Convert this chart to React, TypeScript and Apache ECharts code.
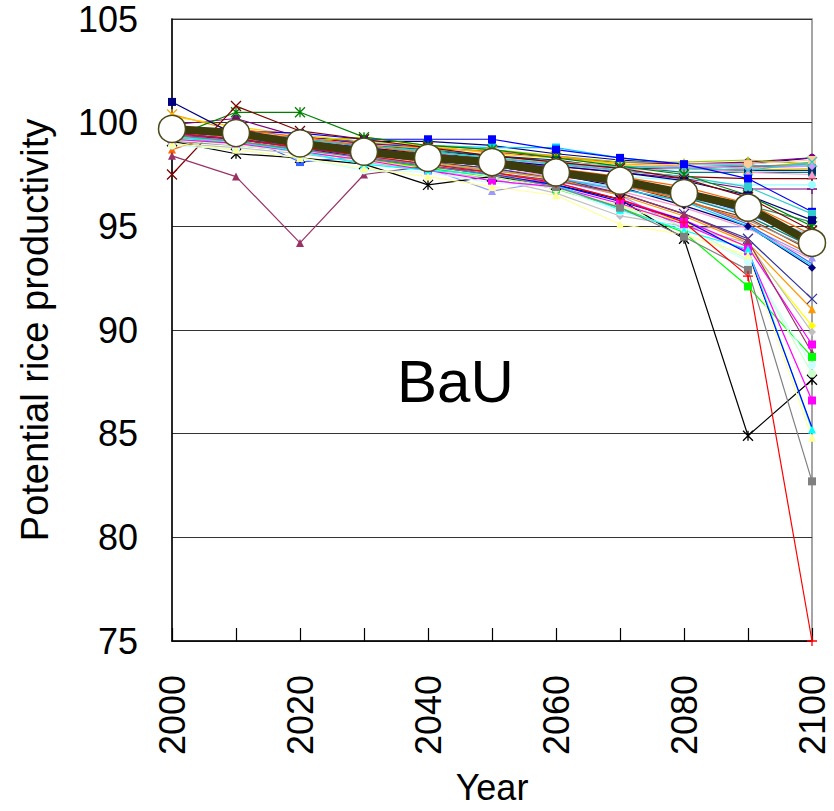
import React, { useEffect, useRef } from "react";
import * as echarts from "echarts";

const YEARS = [2000, 2010, 2020, 2030, 2040, 2050, 2060, 2070, 2080, 2090, 2100];
const X_LABELS = [2000, 2020, 2040, 2060, 2080, 2100];
const Y_TICKS = [75, 80, 85, 90, 95, 100, 105];

// ensemble members (index relative to 2000 = 100)
const U1 = [99.6, 99.5, 99.3, 99.1, 99.1, 98.9, 98.5, 98.2, 98.0, 98.0, 98.3];
const U2 = [99.8, 99.6, 99.3, 99.0, 98.9, 98.8, 98.8, 98.3, 98.0, 97.9, 98.0];
const U3 = [99.9, 100.2, 99.3, 99.0, 98.8, 98.6, 98.3, 98.1, 98.0, 98.1, 98.3];
const U4 = [99.6, 99.3, 99.1, 99.3, 98.9, 98.7, 98.4, 98.1, 98.1, 98.2, 98.0];
const U5 = [100.4, 99.6, 99.2, 98.9, 98.8, 98.6, 98.4, 98.0, 97.9, 97.8, 98.1];
const U6 = [100.3, 99.8, 99.4, 99.1, 98.9, 98.5, 98.3, 98.0, 97.8, 97.7, 97.8];
const U7 = [99.5, 99.3, 99.1, 98.9, 98.6, 98.4, 98.1, 97.9, 97.8, 97.9, 97.9];
const U8 = [99.7, 99.4, 99.2, 98.9, 98.7, 98.4, 98.1, 97.9, 97.6, 97.6, 97.6];
const U9 = [99.8, 99.5, 99.2, 98.9, 98.6, 98.4, 98.2, 97.8, 97.8, 97.7, 97.7];
const U10 = [99.6, 99.4, 99.1, 98.8, 98.5, 98.3, 98.0, 97.7, 97.4, 97.3, 97.3];
const U11 = [99.5, 99.3, 99.0, 98.7, 98.4, 98.1, 97.9, 97.6, 97.3, 96.8, 96.8];
const U12 = [99.4, 99.2, 98.9, 98.6, 98.3, 98.0, 97.7, 97.4, 97.2, 97.0, 97.0];
const U13 = [99.6, 99.4, 99.0, 98.7, 98.5, 98.2, 97.9, 97.7, 97.8, 97.6, 97.5];
const U14 = [99.7, 99.5, 99.2, 98.8, 98.5, 98.2, 98.0, 97.8, 97.9, 97.8, 97.9];
const U15 = [99.9, 99.6, 99.3, 98.9, 98.6, 98.3, 98.1, 97.9, 98.0, 98.0, 98.2];
const U16 = [99.7, 99.5, 99.2, 98.9, 98.6, 98.3, 98.0, 97.9, 97.8, 97.7, 98.1];

const M1 = [99.8, 99.6, 99.5, 99.2, 99.2, 99.2, 98.7, 98.3, 98.0, 97.3, 95.7];
const M2 = [99.4, 99.5, 98.1, 98.4, 98.3, 98.0, 97.6, 97.2, 96.6, 95.6, 94.3];
const M3 = [99.7, 99.5, 99.2, 98.9, 98.6, 98.3, 98.0, 97.7, 97.4, 96.9, 95.6];
const M4 = [99.6, 99.4, 99.1, 98.7, 98.4, 98.1, 97.8, 97.3, 96.7, 96.0, 95.2];
const M5 = [99.3, 100.5, 100.5, 99.3, 98.9, 98.7, 98.3, 97.9, 97.5, 96.5, 95.0];
const M6 = [101.0, 99.4, 99.1, 98.8, 98.5, 98.2, 97.9, 97.6, 97.2, 96.5, 95.3];
const M7 = [97.5, 100.8, 99.6, 99.2, 98.8, 98.4, 98.1, 97.8, 97.3, 96.4, 94.8];
const M8 = [98.7, 99.7, 99.3, 98.9, 98.5, 98.1, 97.8, 97.4, 96.9, 96.1, 94.6];
const M9 = [99.3, 99.0, 98.8, 98.4, 97.8, 96.7, 97.2, 96.5, 94.9, 95.0, 93.5];
const M10 = [99.5, 99.3, 99.0, 98.6, 98.2, 97.9, 97.5, 96.9, 96.0, 95.0, 93.0];

const B1 = [99.8, 99.5, 99.1, 98.7, 98.3, 98.0, 97.6, 97.1, 96.3, 95.1, 93.2];
const B2 = [99.7, 99.4, 99.0, 98.6, 98.2, 97.9, 97.5, 97.0, 96.2, 95.4, 93.8];
const B3 = [99.6, 99.3, 98.9, 98.5, 98.2, 97.9, 97.5, 97.1, 96.5, 95.7, 94.4];
const B4 = [99.7, 99.4, 99.0, 98.7, 98.3, 98.0, 97.6, 97.2, 96.6, 95.8, 94.2];
const B5 = [99.4, 99.2, 98.8, 98.4, 98.0, 97.7, 97.3, 96.9, 96.4, 95.6, 94.6];
const B6 = [99.1, 98.9, 98.6, 98.2, 97.9, 97.5, 97.2, 96.8, 96.2, 95.3, 93.9];
const B7 = [99.5, 99.3, 98.9, 98.5, 98.1, 97.8, 97.4, 96.7, 95.9, 94.9, 93.4];
const B8 = [99.6, 99.3, 98.9, 98.6, 98.2, 97.9, 97.5, 97.0, 96.4, 95.5, 94.0];
const B9 = [99.8, 99.5, 99.1, 98.6, 98.3, 98.0, 97.5, 97.0, 96.3, 95.2, 93.6];
const B10 = [99.2, 99.0, 98.7, 98.3, 98.0, 97.7, 97.3, 96.8, 96.2, 95.0, 93.1];

const L1 = [99.4, 99.2, 98.9, 98.5, 98.1, 97.8, 97.3, 96.6, 95.6, 94.4, 91.5];
const L2 = [99.6, 99.3, 98.9, 98.5, 98.1, 97.7, 97.3, 96.5, 95.5, 94.2, 91.0];
const L3 = [99.2, 99.0, 98.6, 98.2, 97.8, 97.4, 96.8, 96.0, 95.2, 94.0, 90.2];
const L4 = [99.0, 98.8, 98.5, 98.1, 97.7, 97.3, 96.6, 95.5, 95.0, 94.2, 89.9];
const L5 = [99.4, 99.1, 98.7, 98.3, 97.9, 97.4, 97.1, 96.3, 95.3, 94.0, 89.3];
const L6 = [98.4, 97.4, 94.2, 97.5, 97.9, 97.6, 97.2, 96.6, 95.6, 94.3, 88.9];
const L7 = [99.3, 99.1, 98.7, 98.3, 97.8, 97.4, 96.8, 95.9, 94.7, 92.1, 88.7];
const L8 = [99.1, 98.5, 98.3, 98.0, 97.0, 97.4, 97.0, 96.3, 94.4, 84.9, 87.6];
const L9 = [99.2, 98.9, 98.6, 98.3, 97.9, 97.4, 96.8, 96.0, 95.0, 93.4, 87.9];
const L10 = [98.9, 98.7, 98.3, 97.7, 97.6, 97.1, 96.9, 95.7, 94.9, 93.3, 88.3];
const L11 = [99.2, 99.0, 98.6, 98.2, 97.7, 97.2, 96.9, 96.1, 95.1, 93.8, 86.6];
const L12 = [99.3, 99.1, 98.6, 98.0, 97.7, 97.5, 97.0, 95.8, 94.8, 93.9, 85.2];
const L13 = [99.5, 99.2, 98.8, 98.3, 97.9, 97.5, 97.0, 96.2, 95.3, 93.7, 85.3];
const L14 = [99.0, 98.7, 98.3, 97.8, 97.4, 96.9, 96.5, 95.1, 94.6, 93.6, 84.8];
const L15 = [99.4, 99.1, 98.7, 98.3, 97.9, 97.5, 96.9, 95.9, 94.5, 92.9, 82.7];
const L16 = [99.5, 99.2, 98.8, 98.4, 98.0, 97.6, 97.1, 96.3, 95.2, 92.6, 75.0];

const MEAN = [99.7, 99.5, 99.0, 98.6, 98.3, 98.1, 97.6, 97.2, 96.6, 95.9, 94.2];

const X_SYM = "path://M0,0L10,10M10,0L0,10";
const AST_SYM = "path://M0,0L10,10M10,0L0,10M5,0L5,10";
const PLUS_SYM = "path://M5,0L5,10M0,5L10,5";

type Member = { name: string; data: number[]; color: string; symbol: string };

const MEMBERS: Member[] = [
  { name: "U1", data: U1, color: "#000080", symbol: "circle" },
  { name: "U2", data: U2, color: "#00CCFF", symbol: "rect" },
  { name: "U3", data: U3, color: "#800080", symbol: "circle" },
  { name: "U4", data: U4, color: "#99CC00", symbol: "triangle" },
  { name: "U5", data: U5, color: "#FF9900", symbol: AST_SYM },
  { name: "U6", data: U6, color: "#FFCC00", symbol: "diamond" },
  { name: "U7", data: U7, color: "#666699", symbol: "circle" },
  { name: "U8", data: U8, color: "#008080", symbol: "rect" },
  { name: "U9", data: U9, color: "#003366", symbol: "rect" },
  { name: "U10", data: U10, color: "#800000", symbol: PLUS_SYM },
  { name: "U11", data: U11, color: "#800080", symbol: PLUS_SYM },
  { name: "U12", data: U12, color: "#99FFFF", symbol: "circle" },
  { name: "U13", data: U13, color: "#FF99CC", symbol: "triangle" },
  { name: "U14", data: U14, color: "#CC99FF", symbol: "diamond" },
  { name: "U15", data: U15, color: "#FFCC99", symbol: "rect" },
  { name: "U16", data: U16, color: "#33CCCC", symbol: X_SYM },
  { name: "M1", data: M1, color: "#0000FF", symbol: "rect" },
  { name: "M2", data: M2, color: "#3366FF", symbol: "rect" },
  { name: "M3", data: M3, color: "#33CCCC", symbol: "rect" },
  { name: "M4", data: M4, color: "#339966", symbol: X_SYM },
  { name: "M5", data: M5, color: "#008000", symbol: AST_SYM },
  { name: "M6", data: M6, color: "#000080", symbol: "rect" },
  { name: "M7", data: M7, color: "#800000", symbol: X_SYM },
  { name: "M8", data: M8, color: "#FF6600", symbol: "triangle" },
  { name: "M9", data: M9, color: "#9999FF", symbol: "triangle" },
  { name: "M10", data: M10, color: "#000080", symbol: "diamond" },
  { name: "B1", data: B1, color: "#3366FF", symbol: "none" },
  { name: "B2", data: B2, color: "#993300", symbol: "none" },
  { name: "B3", data: B3, color: "#003300", symbol: "none" },
  { name: "B4", data: B4, color: "#333300", symbol: "none" },
  { name: "B5", data: B5, color: "#99CCFF", symbol: "none" },
  { name: "B6", data: B6, color: "#969696", symbol: "none" },
  { name: "B7", data: B7, color: "#FF99CC", symbol: "none" },
  { name: "B8", data: B8, color: "#008080", symbol: "none" },
  { name: "B9", data: B9, color: "#FF6600", symbol: "none" },
  { name: "B10", data: B10, color: "#00CCFF", symbol: "none" },
  { name: "L1", data: L1, color: "#333399", symbol: X_SYM },
  { name: "L2", data: L2, color: "#FF9900", symbol: "triangle" },
  { name: "L3", data: L3, color: "#FFFF00", symbol: "diamond" },
  { name: "L4", data: L4, color: "#C0C0C0", symbol: "diamond" },
  { name: "L5", data: L5, color: "#FF00FF", symbol: "rect" },
  { name: "L6", data: L6, color: "#993366", symbol: "triangle" },
  { name: "L7", data: L7, color: "#00FF00", symbol: "rect" },
  { name: "L8", data: L8, color: "#000000", symbol: AST_SYM },
  { name: "L9", data: L9, color: "#CCFFCC", symbol: "circle" },
  { name: "L10", data: L10, color: "#CCFFFF", symbol: "circle" },
  { name: "L11", data: L11, color: "#FF00FF", symbol: "rect" },
  { name: "L12", data: L12, color: "#00FFFF", symbol: "triangle" },
  { name: "L13", data: L13, color: "#0000FF", symbol: "none" },
  { name: "L14", data: L14, color: "#FFFF99", symbol: "triangle" },
  { name: "L15", data: L15, color: "#808080", symbol: "rect" },
  { name: "L16", data: L16, color: "#FF0000", symbol: PLUS_SYM },
];

const FONT = '"Liberation Sans", Arial, sans-serif';

export default function App() {
  const ref = useRef<HTMLDivElement>(null);
  useEffect(() => {
    if (!ref.current) return;
    const chart = echarts.init(ref.current, undefined, { renderer: "svg" });
    const isStroke = (s: string) => s.startsWith("path://");
    const series: any[] = MEMBERS.map((m) => ({
      name: m.name,
      type: "line",
      data: YEARS.map((y, i) => [y, m.data[i]]),
      symbol: m.symbol,
      symbolSize: isStroke(m.symbol) ? 10 : 8,
      showSymbol: m.symbol !== "none",
      lineStyle: { color: m.color, width: 1.2 },
      itemStyle: isStroke(m.symbol)
        ? { color: m.color, borderColor: m.color, borderWidth: 1.3 }
        : { color: m.color, borderWidth: 0 },
      clip: false,
      z: 2,
      emphasis: { disabled: true },
    }));
    series.push({
      name: "Mean",
      type: "line",
      data: YEARS.map((y, i) => [y, MEAN[i]]),
      symbol: "circle",
      symbolSize: 27,
      lineStyle: { color: "#3c3c0c", width: 8 },
      itemStyle: { color: "#ffffff", borderColor: "#4a4a1a", borderWidth: 1.5 },
      z: 5,
      emphasis: { disabled: true },
    });
    chart.setOption({
      animation: false,
      backgroundColor: "#ffffff",
      grid: {
        left: 172,
        top: 19,
        width: 640,
        height: 622,
        outerBoundsMode: "none",
        containLabel: false,
        show: true,
        borderColor: "#888888",
        borderWidth: 1.5,
        backgroundColor: "transparent",
      },
      xAxis: {
        type: "value",
        min: 2000,
        max: 2100,
        interval: 10,
        name: "Year",
        nameLocation: "middle",
        nameGap: 128,
        nameTextStyle: { fontFamily: FONT, fontSize: 36, color: "#000" },
        axisLine: { show: true, lineStyle: { color: "#000", width: 1.5 } },
        axisTick: { show: true, inside: true, length: 13, lineStyle: { color: "#000", width: 1.2 } },
        splitLine: { show: false },
        axisLabel: {
          rotate: 90,
          margin: 34,
          fontFamily: FONT,
          fontSize: 36,
          color: "#000",
          formatter: (v: number) => (X_LABELS.includes(v) ? String(v) : ""),
        },
      },
      yAxis: {
        type: "value",
        min: Y_TICKS[0],
        max: Y_TICKS[Y_TICKS.length - 1],
        interval: 5,
        name: "Potential rice productivity",
        nameLocation: "middle",
        nameRotate: 90,
        nameGap: 118,
        nameTextStyle: { fontFamily: FONT, fontSize: 38, color: "#000" },
        axisLine: { show: true, lineStyle: { color: "#000", width: 1.5 } },
        axisTick: { show: false },
        splitLine: { show: true, lineStyle: { color: "#333333", width: 1.2 } },
        axisLabel: { margin: 34, fontFamily: FONT, fontSize: 36, color: "#000" },
      },
      graphic: [
        {
          type: "text",
          left: 397,
          top: 351,
          z: 10,
          style: { text: "BaU", font: '60px "Liberation Sans", Arial, sans-serif', fill: "#000" },
        },
      ],
      series,
    });
    return () => chart.dispose();
  }, []);
  return (
    <div
      ref={ref}
      style={{ position: "absolute", left: 0, top: 0, width: 834, height: 811 }}
    />
  );
}
